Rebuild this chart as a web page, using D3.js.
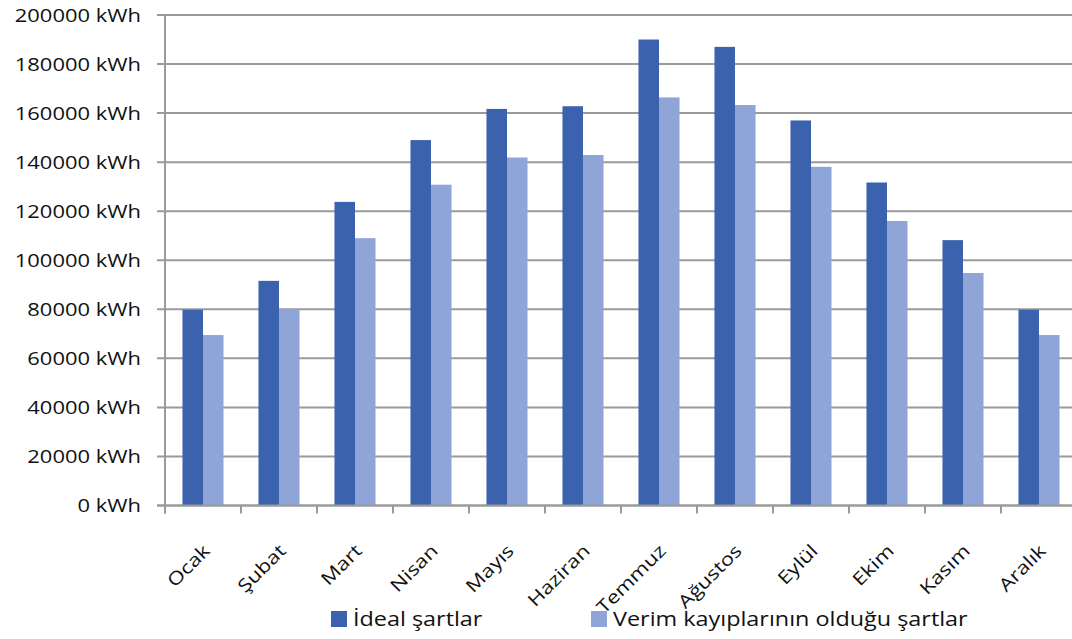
<!DOCTYPE html>
<html>
<head>
<meta charset="utf-8">
<script src="https://cdn.jsdelivr.net/npm/d3@7"></script>
<style>
  html, body { margin: 0; padding: 0; background: #fff; }
  svg { display: block; }
  text { font-family: "Open Sans", sans-serif; fill: #111; }
</style>
</head>
<body>
<svg id="chart" width="1072" height="639"></svg>
<script>
// Monthly energy production, kWh
const months = ["Ocak", "Şubat", "Mart", "Nisan", "Mayıs", "Haziran", "Temmuz", "Ağustos", "Eylül", "Ekim", "Kasım", "Aralık"];
const idealValues = [79800, 91600, 123800, 149000, 161700, 162800, 190000, 187000, 157000, 131700, 108200, 79800];
const lossValues  = [69500, 80000, 109000, 130800, 141900, 142900, 166400, 163300, 138100, 116000, 94800, 69500];
const seriesNames = ["İdeal şartlar", "Verim kayıplarının olduğu şartlar"];
const yTicks = [0, 20000, 40000, 60000, 80000, 100000, 120000, 140000, 160000, 180000, 200000];

const colors = ["#3b62ad", "#8fa5d8"];
const gridColor = "#9a9a9a";
const stretch = 1.22;       // horizontal widening of axis text
const legendStretch = 1.17; // horizontal widening of legend text

const svg = d3.select("#chart");
const plotLeft = 165, plotRight = 1077, plotTop = 15, plotBottom = 505.5;

const x = d3.scaleBand().domain(months).range([plotLeft, plotRight]).paddingInner(0.46).paddingOuter(0.23);
const xs = d3.scaleBand().domain([0, 1]).range([0, x.bandwidth()]);
const y = d3.scaleLinear().domain([0, 200000]).range([plotBottom, plotTop]);
const step = x.step();

// horizontal gridlines with outer tick marks
svg.append("g").selectAll("line").data(yTicks).join("line")
  .attr("x1", plotLeft - 8).attr("x2", plotRight)
  .attr("y1", d => y(d)).attr("y2", d => y(d))
  .attr("stroke", gridColor).attr("stroke-width", 2);

// y axis labels
svg.append("g").selectAll("text").data(yTicks).join("text")
  .attr("transform", d => `translate(141,${y(d) + 6.5}) scale(${stretch},1)`)
  .attr("text-anchor", "end")
  .attr("font-size", 18)
  .text(d => `${d} kWh`);

// bars
const groups = svg.append("g").selectAll("g").data(months).join("g")
  .attr("transform", m => `translate(${x(m)},0)`);
groups.selectAll("rect")
  .data((m, i) => [idealValues[i], lossValues[i]].map((v, s) => ({ v, s })))
  .join("rect")
  .attr("x", d => xs(d.s))
  .attr("width", xs.bandwidth())
  .attr("y", d => y(d.v))
  .attr("height", d => y(0) - y(d.v))
  .attr("fill", d => colors[d.s]);

// y axis line
svg.append("line")
  .attr("x1", plotLeft).attr("x2", plotLeft)
  .attr("y1", plotTop).attr("y2", plotBottom + 8)
  .attr("stroke", gridColor).attr("stroke-width", 2);

// x axis line and category boundary ticks
svg.append("line")
  .attr("x1", plotLeft - 8).attr("x2", plotRight)
  .attr("y1", plotBottom).attr("y2", plotBottom)
  .attr("stroke", gridColor).attr("stroke-width", 2);
svg.append("g").selectAll("line").data(d3.range(months.length + 1)).join("line")
  .attr("x1", i => plotLeft + i * step).attr("x2", i => plotLeft + i * step)
  .attr("y1", plotBottom).attr("y2", plotBottom + 8)
  .attr("stroke", gridColor).attr("stroke-width", 2);

// rotated month labels
svg.append("g").selectAll("text").data(months).join("text")
  .attr("transform", m => `translate(${x(m) + x.bandwidth() / 2 + 8},552) rotate(-45) scale(${stretch},1)`)
  .attr("text-anchor", "end")
  .attr("font-size", 18)
  .text(m => m);

// legend
const legendItems = [{ x: 331, label: seriesNames[0] }, { x: 591, label: seriesNames[1] }];
const legend = svg.append("g").selectAll("g").data(legendItems).join("g")
  .attr("transform", d => `translate(${d.x},611)`);
legend.append("rect")
  .attr("width", 16).attr("height", 16)
  .attr("fill", (d, i) => colors[i]);
legend.append("text")
  .attr("transform", `translate(22,15) scale(${legendStretch},1)`)
  .attr("font-size", 20)
  .text(d => d.label);
</script>
</body>
</html>
